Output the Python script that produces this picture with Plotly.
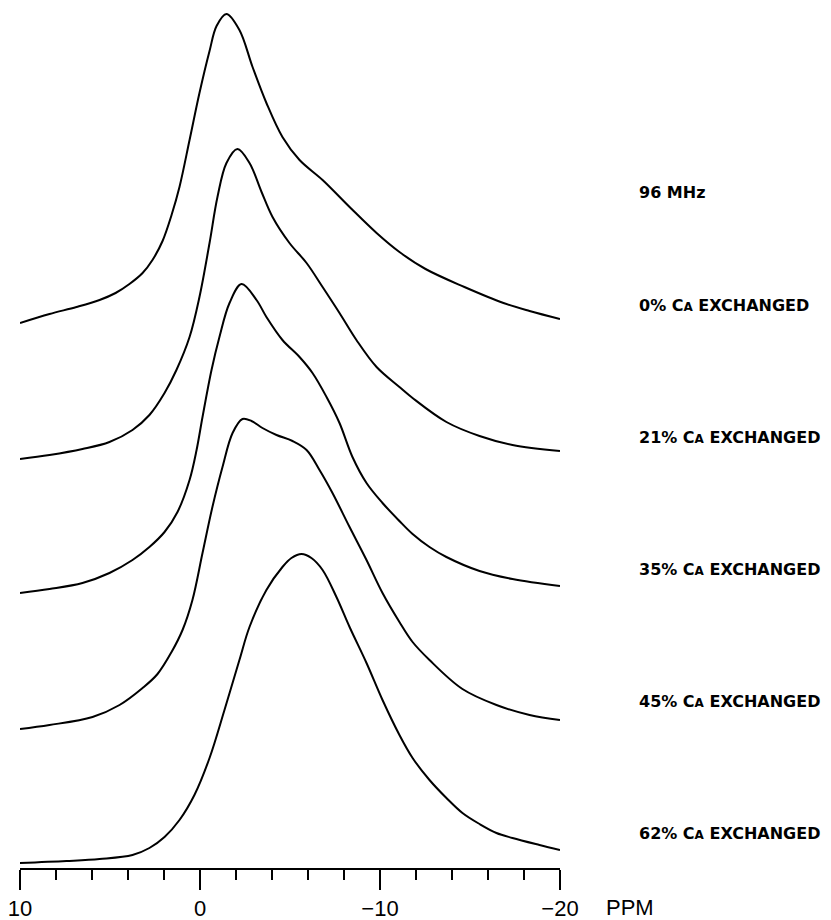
import plotly.graph_objects as go

# Chemical shift axis (ppm) and intensity readings for each spectrum
ppm_0 = [10.0, 8.36, 6.86, 5.58, 4.69, 3.92, 3.19, 2.64, 2.08, 1.58, 1.14, 0.58, 0.03, -0.53,
         -0.92, -1.47, -2.19, -2.92, -3.69, -4.58, -5.53, -6.81, -8.31, -9.81, -11.08,
         -12.53, -14.69, -16.86, -18.31, -20.0]
int_0 = [0, 9, 16, 23, 30, 39, 50, 63, 82, 108, 136, 183, 230, 272,
         297, 309, 293, 256, 220, 186, 163, 143, 116, 90, 71,
         54, 36, 20, 12, 4]

ppm_21 = [10.0, 8.36, 6.53, 5.03, 3.75, 2.81, 1.97, 1.31, 0.58, 0.03, -0.53, -0.97, -1.47,
          -2.08, -2.75, -3.42, -4.03, -4.97, -5.92, -6.81, -7.75, -8.69, -9.81, -11.08,
          -11.81, -13.69, -15.53, -17.36, -20.0]
int_21 = [0, 4, 10, 17, 29, 44, 66, 89, 122, 162, 216, 262, 296,
          310, 296, 267, 242, 216, 196, 172, 146, 119, 92, 72,
          61, 37, 23, 14, 8]

ppm_35 = [10.0, 8.36, 6.53, 5.03, 3.75, 2.81, 1.97, 1.25, 0.58, 0.19, -0.14, -0.64, -1.08,
          -1.64, -2.31, -3.14, -3.69, -4.58, -5.53, -6.25, -7.03, -7.75, -8.47, -9.25,
          -10.14, -11.08, -11.81, -12.75, -13.69, -15.53, -17.36, -20.0]
int_35 = [0, 4, 10, 20, 33, 46, 61, 81, 113, 143, 176, 223, 256,
          290, 309, 293, 276, 253, 236, 220, 196, 170, 136, 110,
          90, 72, 59, 46, 36, 22, 14, 7]

ppm_45 = [10.0, 8.36, 5.97, 4.47, 3.19, 2.36, 1.58, 0.97, 0.42, -0.14, -0.69, -1.25, -1.81,
          -2.36, -2.86, -3.47, -4.25, -5.14, -5.92, -6.64, -7.36, -8.31, -9.25, -10.14,
          -11.08, -11.81, -12.75, -14.58, -16.47, -18.31, -20.0]
int_45 = [0, 4, 12, 24, 41, 55, 77, 99, 129, 176, 222, 262, 296,
          310, 308, 301, 294, 288, 279, 259, 236, 202, 169, 136,
          107, 87, 69, 40, 24, 14, 9]

ppm_62 = [10.0, 7.42, 5.58, 3.75, 2.81, 1.97, 1.14, 0.31, -0.53, -1.36, -2.19, -2.75, -3.69,
          -4.58, -5.08, -5.64, -6.19, -6.81, -7.58, -8.31, -9.25, -10.14, -11.08, -11.81,
          -12.75, -13.69, -14.58, -15.53, -16.47, -17.36, -18.86, -20.0]
int_62 = [0, 2, 4, 8, 15, 26, 43, 68, 105, 153, 203, 236, 273,
          296, 305, 309, 305, 293, 266, 236, 200, 163, 128, 105,
          83, 65, 50, 39, 30, 25, 18, 13]

series_ppm = [ppm_62, ppm_45, ppm_35, ppm_21, ppm_0]
series_int = [int_62, int_45, int_35, int_21, int_0]
stack_offset = [5, 139, 275, 409, 545]
series_names = ["62% CA EXCHANGED", "45% CA EXCHANGED", "35% CA EXCHANGED",
                "21% CA EXCHANGED", "0% CA EXCHANGED"]
small_a = "<span style='font-size:12px'>A</span>"
series_labels = [f"62% C{small_a} EXCHANGED", f"45% C{small_a} EXCHANGED",
                 f"35% C{small_a} EXCHANGED", f"21% C{small_a} EXCHANGED",
                 f"0% C{small_a} EXCHANGED"]
field_label = "96 MHz"
major_ticks = [10, 0, -10, -20]

fig = go.Figure()
for xs, ys, off, name in zip(series_ppm, series_int, stack_offset, series_names):
    fig.add_trace(go.Scatter(
        x=xs, y=[v + off for v in ys], mode="lines", name=name,
        line=dict(color="black", width=2, shape="spline", smoothing=1.0),
        showlegend=False, hoverinfo="skip",
    ))

# right-hand captions, evenly spaced beside each trace
label_font = dict(family="DejaVu Sans", size=16, color="black")
label_x = 1.1426
for i, text in enumerate(series_labels):
    fig.add_annotation(x=label_x, xref="paper", y=35 + 132 * i, yref="y",
                       text="<b>" + text + "</b>", showarrow=False,
                       xanchor="left", yanchor="middle", font=label_font)
fig.add_annotation(x=label_x, xref="paper", y=676, yref="y",
                   text="<b>" + field_label + "</b>", showarrow=False,
                   xanchor="left", yanchor="middle", font=label_font)
fig.add_annotation(x=1.082, xref="paper", y=-0.046, yref="paper", text="PPM",
                   showarrow=False, xanchor="left", yanchor="middle",
                   font=dict(family="Liberation Sans", size=22, color="black"))

fig.update_xaxes(
    range=[10, -20], showgrid=False, zeroline=False,
    showline=True, linecolor="black", linewidth=2,
    tickmode="array", tickvals=major_ticks,
    ticks="outside", ticklen=20, tickwidth=2, tickcolor="black",
    tickfont=dict(family="Liberation Sans", size=22, color="black"),
    minor=dict(dtick=2, tick0=0, ticks="outside", ticklen=10, tickwidth=2, tickcolor="black"),
)
fig.update_yaxes(range=[0, 868], visible=False, showgrid=False, zeroline=False)

fig.update_layout(
    width=831, height=920,
    margin=dict(l=20, r=271, t=0, b=52),
    paper_bgcolor="white", plot_bgcolor="white",
)

fig.write_html("out.html")
